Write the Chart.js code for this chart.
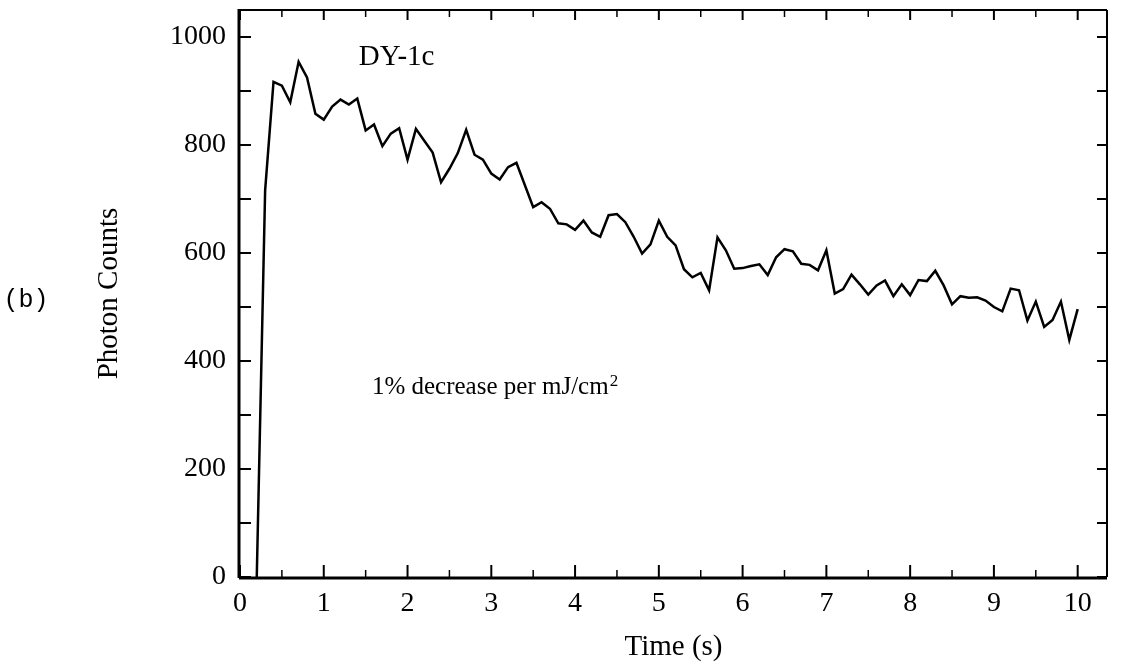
<!DOCTYPE html>
<html>
<head>
<meta charset="utf-8">
<title>DY-1c photon counts</title>
<script src="https://cdn.jsdelivr.net/npm/chart.js@4.4.0/dist/chart.umd.min.js"></script>
<style>
  html, body { margin: 0; padding: 0; background: #fff; }
  #wrap { width: 1125px; height: 665px; }
</style>
</head>
<body>
<div id="wrap"><canvas id="chart" width="1125" height="665"></canvas></div>
<script>
// Time (s) of each sample
const times = [
  0.2, 0.3, 0.4, 0.5, 0.6, 0.7, 0.8, 0.9, 1.0,
  1.1, 1.2, 1.3, 1.4, 1.5, 1.6, 1.7, 1.8, 1.9, 2.0,
  2.1, 2.2, 2.3, 2.4, 2.5, 2.6, 2.7, 2.8, 2.9, 3.0,
  3.1, 3.2, 3.3, 3.4, 3.5, 3.6, 3.7, 3.8, 3.9, 4.0,
  4.1, 4.2, 4.3, 4.4, 4.5, 4.6, 4.7, 4.8, 4.9, 5.0,
  5.1, 5.2, 5.3, 5.4, 5.5, 5.6, 5.7, 5.8, 5.9, 6.0,
  6.1, 6.2, 6.3, 6.4, 6.5, 6.6, 6.7, 6.8, 6.9, 7.0,
  7.1, 7.2, 7.3, 7.4, 7.5, 7.6, 7.7, 7.8, 7.9, 8.0,
  8.1, 8.2, 8.3, 8.4, 8.5, 8.6, 8.7, 8.8, 8.9, 9.0,
  9.1, 9.2, 9.3, 9.4, 9.5, 9.6, 9.7, 9.8, 9.9, 10.0
];

// Photon counts for each sample
const counts = [
  0, 716, 917, 910, 879, 954, 925, 858, 847,
  871, 884, 875, 886, 827, 838, 798, 821, 831, 773,
  830, 808, 786, 731, 756, 785, 828, 782, 773, 747,
  736, 759, 767, 726, 685, 694, 682, 655, 653, 643,
  660, 638, 630, 670, 672, 657, 630, 599, 616, 660,
  630, 614, 570, 555, 563, 531, 629, 605, 571, 572,
  576, 579, 559, 592, 607, 603, 580, 578, 568, 605,
  525, 533, 560, 542, 523, 540, 549, 520, 542, 522,
  550, 548, 567, 540, 505, 520, 517, 518, 512, 500,
  492, 534, 531, 475, 510, 463, 476, 510, 439, 496
];

// Axis ticks
const xTicks = [0, 1, 2, 3, 4, 5, 6, 7, 8, 9, 10];
const xMinorTicks = [0.5, 1.5, 2.5, 3.5, 4.5, 5.5, 6.5, 7.5, 8.5, 9.5];
const yTicks = [0, 200, 400, 600, 800, 1000];
const yMinorTicks = [100, 300, 500, 700, 900];

const serif = '"Liberation Serif", "Times New Roman", serif';

// Frame, inward ticks and the text written inside the plot
const framePlugin = {
  id: 'frame',
  afterDraw(chart) {
    const { ctx, chartArea: a, scales: { x, y } } = chart;
    ctx.save();
    ctx.strokeStyle = '#000';
    ctx.lineCap = 'butt';

    function seg(x1, y1, x2, y2, w) {
      ctx.lineWidth = w;
      ctx.beginPath();
      ctx.moveTo(x1, y1);
      ctx.lineTo(x2, y2);
      ctx.stroke();
    }

    // box: heavier left and bottom edges
    seg(a.left, a.top, a.right, a.top, 2);
    seg(a.right, a.top, a.right, a.bottom, 2);
    seg(a.left - 1, a.top - 1, a.left - 1, a.bottom + 1, 3);
    seg(a.left - 1, a.bottom + 1, a.right, a.bottom + 1, 3);

    xTicks.forEach(v => {
      const px = x.getPixelForValue(v);
      seg(px, a.bottom, px, a.bottom - 12, 2);
      seg(px, a.top, px, a.top + 10, 2);
    });
    xMinorTicks.forEach(v => {
      const px = x.getPixelForValue(v);
      seg(px, a.bottom, px, a.bottom - 7, 1.5);
      seg(px, a.top, px, a.top + 7, 1.5);
    });
    yTicks.concat(yMinorTicks).forEach(v => {
      const py = y.getPixelForValue(v);
      seg(a.left, py, a.left + 11, py, 2);
      seg(a.right, py, a.right - 10, py, 2);
    });

    ctx.fillStyle = '#000';
    ctx.textBaseline = 'alphabetic';

    ctx.font = '29px ' + serif;
    ctx.textAlign = 'center';
    ctx.fillText('DY-1c', x.getPixelForValue(1.87), y.getPixelForValue(948));

    ctx.font = '25px ' + serif;
    ctx.textAlign = 'left';
    const tx = x.getPixelForValue(1.575);
    const ty = y.getPixelForValue(339);
    const main = '1% decrease per mJ/cm';
    ctx.fillText(main, tx, ty);
    const w = ctx.measureText(main).width;
    ctx.font = '17px ' + serif;
    ctx.fillText('2', tx + w + 1, ty - 8);

    // panel letter
    ctx.font = '25px "Liberation Mono", "Courier New", monospace';
    ctx.textAlign = 'center';
    ctx.textBaseline = 'middle';
    ctx.fillText('(b)', 26, 300);

    ctx.restore();
  }
};

const ctx = document.getElementById('chart').getContext('2d');
const chart = new Chart(ctx, {
  type: 'line',
  data: {
    datasets: [{
      data: times.map((t, i) => ({ x: t, y: counts[i] })),
      borderColor: '#000',
      borderWidth: 2.5,
      pointRadius: 0,
      tension: 0,
      fill: false
    }]
  },
  options: {
    responsive: false,
    animation: false,
    layout: { padding: { top: 10, right: 18, left: 0, bottom: 0 } },
    plugins: {
      legend: { display: false },
      tooltip: { enabled: false }
    },
    scales: {
      x: {
        type: 'linear',
        min: 0,
        max: 10.35,
        afterFit: s => {
          s.height = 88;
          s.paddingLeft = 0;
          s.paddingRight = 0;
        },
        afterBuildTicks: s => { s.ticks = xTicks.map(v => ({ value: v })); },
        grid: { display: false, drawTicks: false },
        border: { display: false },
        ticks: {
          color: '#000',
          font: { family: serif, size: 28 },
          padding: 10,
          maxRotation: 0,
          autoSkip: false,
          callback: v => String(v)
        },
        title: {
          display: true,
          text: 'Time (s)',
          color: '#000',
          font: { family: serif, size: 29 },
          padding: { top: 0, bottom: 0 }
        }
      },
      y: {
        type: 'linear',
        min: 0,
        max: 1050,
        afterFit: s => {
          s.width = 240;
          s.paddingTop = 0;
          s.paddingBottom = 0;
        },
        afterBuildTicks: s => { s.ticks = yTicks.map(v => ({ value: v })); },
        grid: { display: false, drawTicks: false },
        border: { display: false },
        ticks: {
          color: '#000',
          font: { family: serif, size: 28 },
          padding: 14,
          autoSkip: false,
          callback: v => String(v)
        },
        title: {
          display: true,
          text: 'Photon Counts',
          color: '#000',
          font: { family: serif, size: 29 },
          padding: { top: 92, bottom: 0 }
        }
      }
    }
  },
  plugins: [framePlugin]
});
</script>
</body>
</html>
